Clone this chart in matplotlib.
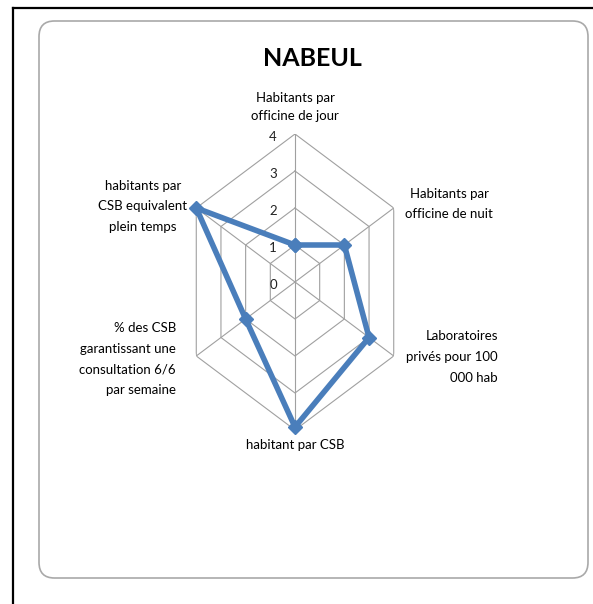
import numpy as np
import matplotlib
matplotlib.use("Agg")
import matplotlib.pyplot as plt
from matplotlib.patches import FancyBboxPatch
from matplotlib.lines import Line2D

# ---- data ----
title = "NABEUL"
categories = [
    "Habitants par\nofficine de jour",
    "Habitants par\nofficine de nuit",
    "Laboratoires\nprivés pour 100\n000 hab",
    "habitant par CSB",
    "% des CSB\ngarantissant une\nconsultation 6/6\npar semaine",
    "habitants par\nCSB equivalent\nplein temps",
]
values = [1, 2, 3, 3.92, 2, 4]
r_ticks = [0, 1, 2, 3, 4]

W, H = 593, 604
fig = plt.figure(figsize=(W / 100, H / 100), dpi=100)
plt.rcParams['font.family'] = ['Lato', 'DejaVu Sans']

def fx(px):
    return px / W

def fy(py):
    return 1 - py / H

# outer black frame (top and left edges)
fig.add_artist(Line2D([fx(13), 1.0], [fy(8), fy(8)], transform=fig.transFigure,
                      color='black', lw=1.6))
fig.add_artist(Line2D([fx(13), fx(13)], [fy(8), 0.0], transform=fig.transFigure,
                      color='black', lw=1.6))

# rounded chart area
box = FancyBboxPatch((fx(39), fy(578)), fx(588) - fx(39), fy(21) - fy(578),
                     boxstyle="round,pad=0,rounding_size=0.026",
                     transform=fig.transFigure, facecolor='white',
                     edgecolor='#a9a9a9', lw=1.2, zorder=0)
fig.add_artist(box)

# polar axes, horizontally squashed like the reference
cx, cy = 295, 282
hw, hh = 114, 148
ax = fig.add_axes([fx(cx - hw), fy(cy + hh), 2 * hw / W, 2 * hh / H],
                  projection='polar')
ax.set_aspect('auto')
ax.set_theta_zero_location('N')
ax.set_theta_direction(-1)
ax.set_ylim(0, max(r_ticks))
ax.grid(False)
ax.spines['polar'].set_visible(False)
ax.set_xticks([])
ax.set_yticks([])
ax.patch.set_alpha(0)

n = len(categories)
angles = np.linspace(0, 2 * np.pi, n, endpoint=False)
closed = np.concatenate([angles, angles[:1]])

grid_color = '#a0a0a0'
for r in r_ticks[1:]:
    ax.plot(closed, [r] * (n + 1), color=grid_color, lw=0.8, zorder=1)
for a in angles:
    ax.plot([a, a], [0, max(r_ticks)], color=grid_color, lw=0.8, zorder=1)

for r in r_ticks:
    ax.annotate(str(r), xy=(0, r), xytext=(-18, -3), textcoords='offset pixels',
                ha='right', va='center', fontsize=9.5, color='#222222')

vals = list(values) + [values[0]]
ax.plot(closed, vals, color='#4a7ebb', lw=4, marker='D', markersize=7.5,
        markerfacecolor='#4a7ebb', markeredgecolor='#4a7ebb', zorder=3,
        clip_on=False)

# title
fig.text(fx(312), fy(58), title, ha='center', va='center', fontsize=18,
         fontweight='bold', color='black')

# category labels
lab_kw = dict(fontsize=9.5, color='black', linespacing=1.85)
fig.text(fx(295), fy(107), categories[0], ha='center', va='center',
         multialignment='center', **{**lab_kw, 'linespacing': 1.7})
fig.text(fx(449), fy(204), categories[1], ha='center', va='center',
         multialignment='center', **{**lab_kw, 'linespacing': 1.75})
fig.text(fx(498), fy(357), categories[2], ha='right', va='center',
         multialignment='right', **lab_kw)
fig.text(fx(295), fy(445), categories[3], ha='center', va='center',
         multialignment='center', **lab_kw)
fig.text(fx(176), fy(359), categories[4], ha='right', va='center',
         multialignment='right', **lab_kw)
fig.text(fx(143), fy(206), categories[5], ha='center', va='center',
         multialignment='center', **lab_kw)

fig.savefig("out.png", dpi=100)
